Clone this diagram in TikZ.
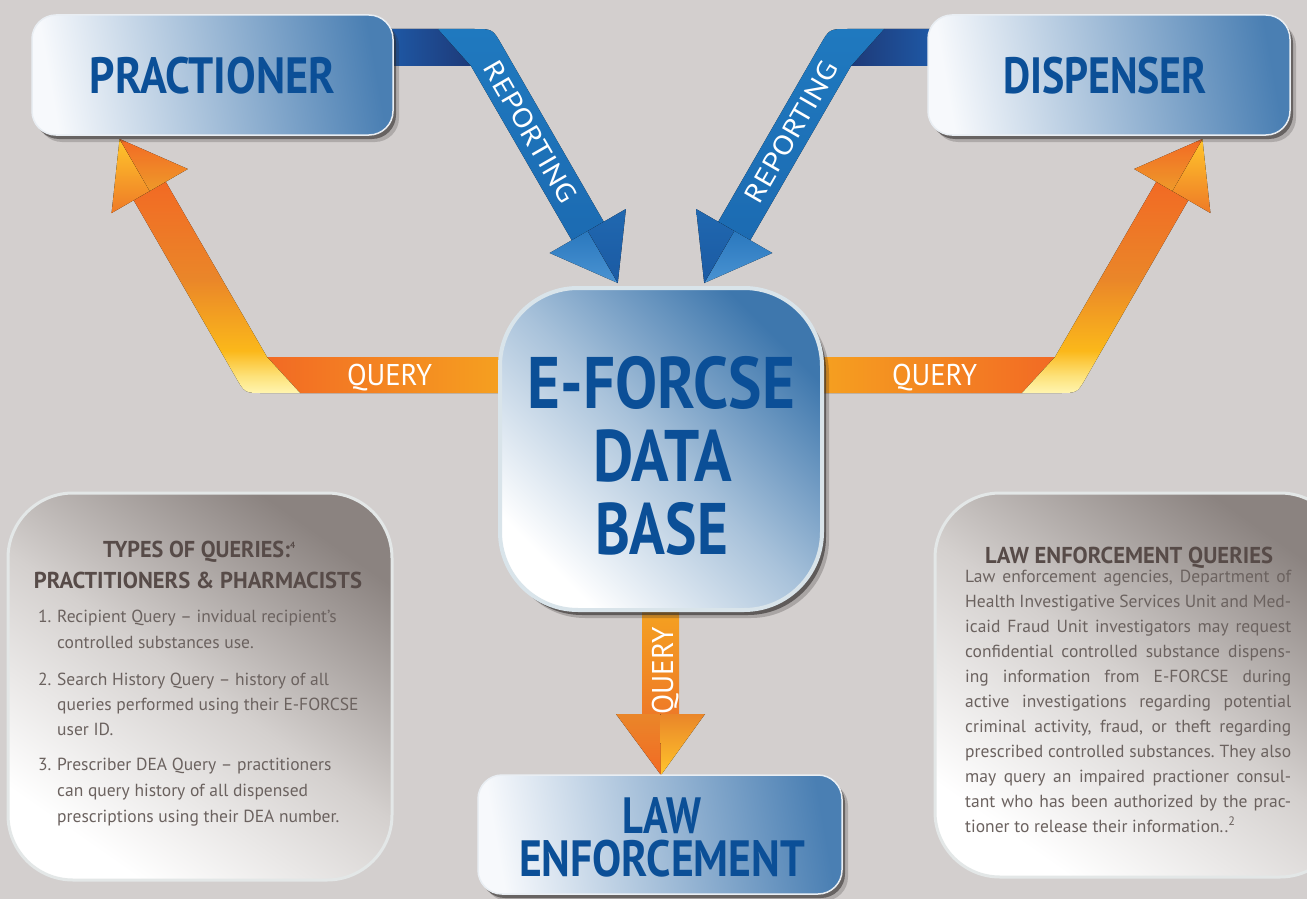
\documentclass[tikz,border=0pt]{standalone}
\usepackage{fontspec}
\setmainfont{PT Sans}
\newfontfamily\headfont{PT Sans}
\newfontfamily\bodyfont{PT Sans}
\usetikzlibrary{shadows,calc}
\frenchspacing

\definecolor{bgc}{HTML}{D3CFCE}
\definecolor{hblue}{HTML}{0B4F97}
\definecolor{boxl}{HTML}{F7F9FC}
\definecolor{boxr}{HTML}{4A7FB3}
\definecolor{boxrim}{HTML}{E9EEF3}
\definecolor{shadowc}{HTML}{2E2A29}
\definecolor{dbtop}{HTML}{3E77AD}
\definecolor{dbrim}{HTML}{D9E4EA}
\definecolor{pdark}{HTML}{8B8380}
\definecolor{pmid}{HTML}{D4D0CE}
\definecolor{prim}{HTML}{E3E7E7}
\definecolor{ptitlec}{HTML}{574B48}
\definecolor{bodyc}{HTML}{6B625F}
\definecolor{repblue}{HTML}{1F79BF}
\definecolor{repblueb}{HTML}{1C6BB2}
\definecolor{repnavyA}{HTML}{1E5CAB}
\definecolor{repnavyB}{HTML}{1E3A78}
\definecolor{rheadLa}{HTML}{4A93D2}
\definecolor{rheadLb}{HTML}{2A78BE}
\definecolor{rheadDa}{HTML}{1B5AA3}
\definecolor{rheadDb}{HTML}{2068B0}
\definecolor{qy0}{HTML}{FFF5B0}
\definecolor{qy1}{HTML}{FDE27A}
\definecolor{qy2}{HTML}{FBB81A}
\definecolor{qy3}{HTML}{EA8629}
\definecolor{qy4}{HTML}{F26A24}
\definecolor{qored}{HTML}{F26A24}
\definecolor{qband}{HTML}{F6A91F}
\definecolor{qhy}{HTML}{FFC52B}
\definecolor{qho}{HTML}{EE7A27}
\definecolor{qhl}{HTML}{EE9A2A}

\pgfdeclareverticalshading{qdiag}{100bp}{color(0bp)=(qy0); color(25bp)=(qy0); color(29bp)=(qy1); color(35bp)=(qy2); color(52bp)=(qy3); color(75bp)=(qy4); color(100bp)=(qy4)}

\tikzset{
  topbox/.style={rectangle, rounded corners=24pt, draw=boxrim, line width=1.5pt,
    left color=boxl, right color=boxr, shading angle=100,
    drop shadow={shadow xshift=3pt, shadow yshift=-4pt, opacity=0.55, fill=shadowc},
    drop shadow={shadow xshift=6pt, shadow yshift=-7pt, opacity=0.22, fill=shadowc},
    inner sep=0pt},
  dbbox/.style={rectangle, rounded corners=78pt, draw=dbrim, line width=4pt,
    top color=dbtop, bottom color=white, middle color=dbtop!45!white, shading angle=-45,
    drop shadow={shadow xshift=4pt, shadow yshift=-5pt, opacity=0.6, fill=shadowc},
    drop shadow={shadow xshift=7pt, shadow yshift=-8pt, opacity=0.25, fill=shadowc},
    inner sep=0pt},
  panel/.style={rectangle, rounded corners=65pt, draw=prim, line width=3pt,
    top color=pdark, bottom color=white, middle color=pmid, shading angle=-35,
    inner sep=0pt},
  hd/.style={text=hblue, inner sep=0pt},
  ptitle/.style={text=ptitlec, font=\headfont\bfseries\fontsize{23}{23}\selectfont, inner sep=0pt},
  body/.style={text=bodyc, font=\bodyfont\fontsize{17.5}{21}\selectfont, inner sep=0pt, anchor=base west},
  wlab/.style={text=white, font=\headfont\fontsize{30}{30}\selectfont, inner sep=0pt},
}

\begin{document}
\begin{tikzpicture}[x=1pt,y=-1pt]
\fill[bgc] (0,0) rectangle (1307,899);
\useasboundingbox (0,0) rectangle (1307,899);

% ---------- side panels ----------
\node[panel, minimum width=384pt, minimum height=387pt] (lpanel) at (200,686.5) {};
\node[panel, minimum width=410pt, minimum height=384pt] (rpanel) at (1140,685) {};

% ---------- named points of the ribbons ----------
% left reporting
\coordinate (rLa) at (380,29);  \coordinate (rLb) at (438,29);
\coordinate (rLc) at (471,66);  \coordinate (rLd) at (380,66);
\coordinate (rLr) at (603.8,221.8); \coordinate (rLl) at (571.8,240.3);
\coordinate (rLt) at (617.8,283); \coordinate (rLbl) at (549.7,253);
\coordinate (rLbr) at (625.9,209); \coordinate (rLm) at (587.8,231);
% right reporting
\coordinate (rRa) at (942,29);  \coordinate (rRb) at (884,29);
\coordinate (rRc) at (851,66);  \coordinate (rRd) at (942,66);
\coordinate (rRr) at (718.2,221.8); \coordinate (rRl) at (750.2,240.3);
\coordinate (rRt) at (704.2,283); \coordinate (rRbl) at (772.3,253);
\coordinate (rRbr) at (696.1,209); \coordinate (rRm) at (734.2,231);
% left query
\coordinate (qLa) at (267,357); \coordinate (qLb) at (540,357);
\coordinate (qLc) at (540,393); \coordinate (qLd) at (300,393);
\coordinate (qLi) at (165.7,181.75); \coordinate (qLo) at (133.7,200.25);
\coordinate (qLt) at (119.6,139); \coordinate (qLbl) at (111.6,213);
\coordinate (qLbr) at (187.8,169); \coordinate (qLm) at (149.7,191);
% right query
\coordinate (qRa) at (1055,357); \coordinate (qRb) at (782,357);
\coordinate (qRc) at (782,393); \coordinate (qRd) at (1022,393);
\coordinate (qRi) at (1156.3,181.75); \coordinate (qRo) at (1188.3,200.25);
\coordinate (qRt) at (1202.4,139); \coordinate (qRbl) at (1210.4,213);
\coordinate (qRbr) at (1134.2,169); \coordinate (qRm) at (1172.3,191);
% down query
\coordinate (qDa) at (642,590); \coordinate (qDb) at (679,714);
\coordinate (qDl) at (616,714); \coordinate (qDr) at (705,714);
\coordinate (qDm) at (660.5,714); \coordinate (qDt) at (661,775);

% ---------- reporting ribbons ----------
\fill[left color=repnavyA, right color=repnavyB] (rLa) -- (rLb) -- (rLc) -- (rLd) -- cycle;
\fill[top color=repblue, bottom color=repblueb]
  (rLb) -- (474,29) .. controls (492.6,29) .. (501.6,44.6) -- (rLr) -- (rLl) -- (rLc) -- cycle;
\fill[top color=rheadLb, bottom color=rheadLa] (rLt) -- (rLbl) -- (rLm) -- cycle;
\fill[top color=rheadDb, bottom color=rheadDa] (rLt) -- (rLbr) -- (rLm) -- cycle;

\fill[left color=repnavyB, right color=repnavyA] (rRa) -- (rRb) -- (rRc) -- (rRd) -- cycle;
\fill[top color=repblue, bottom color=repblueb]
  (rRb) -- (848,29) .. controls (829.4,29) .. (820.4,44.6) -- (rRr) -- (rRl) -- (rRc) -- cycle;
\fill[top color=rheadLb, bottom color=rheadLa] (rRt) -- (rRbl) -- (rRm) -- cycle;
\fill[top color=rheadDb, bottom color=rheadDa] (rRt) -- (rRbr) -- (rRm) -- cycle;

% ---------- query ribbons ----------
\fill[left color=qored, right color=qband] (qLa) -- (qLb) -- (qLc) -- (qLd) -- cycle;
\fill[shading=qdiag] (qLa) -- (qLi) -- (qLo) -- (235.8,377.4) .. controls (244.8,393) .. (262.8,393) -- (qLd) -- cycle;
\fill[top color=qhy, bottom color=qho] (qLt) -- (qLbl) -- (qLm) -- cycle;
\fill[top color=qored, bottom color=qhl] (qLt) -- (qLbr) -- (qLm) -- cycle;

\fill[left color=qband, right color=qored] (qRa) -- (qRb) -- (qRc) -- (qRd) -- cycle;
\fill[shading=qdiag] (qRa) -- (qRi) -- (qRo) -- (1086.2,377.4) .. controls (1077.2,393) .. (1059.2,393) -- (qRd) -- cycle;
\fill[top color=qhy, bottom color=qho] (qRt) -- (qRbl) -- (qRm) -- cycle;
\fill[top color=qored, bottom color=qhl] (qRt) -- (qRbr) -- (qRm) -- cycle;

\fill[top color=qband, bottom color=qho] (qDa) rectangle (qDb);
\fill[top color=qy3, bottom color=qored] (qDl) -- (qDm) -- (qDt) -- cycle;
\fill[top color=qy3, bottom color=qhy] (qDr) -- (qDm) -- (qDt) -- cycle;

% ---------- boxes ----------
\node[topbox, minimum width=361pt, minimum height=120pt] (prac) at (212.5,75) {};
\node[topbox, minimum width=362pt, minimum height=120pt] (disp) at (1109,75) {};
\node[dbbox, minimum width=322pt, minimum height=322pt] (db) at (661,449) {};
\node[topbox, minimum width=364pt, minimum height=119pt] (law) at (660,834.5) {};

% ---------- box texts ----------
\node[hd, anchor=base, font=\headfont\bfseries\fontsize{51}{51}\selectfont] (pract) at (212.5,94) {\resizebox{245pt}{\height}{PRACTIONER}};
\node[hd, anchor=base, font=\headfont\bfseries\fontsize{51}{51}\selectfont] (dispt) at (1105,94) {\resizebox{204pt}{\height}{DISPENSER}};
\node[hd, anchor=base, font=\headfont\bfseries\fontsize{73}{73}\selectfont] (dbt1) at (661.5,408) {\resizebox{267pt}{\height}{E-FORCSE}};
\node[hd, anchor=base, font=\headfont\bfseries\fontsize{73}{73}\selectfont] (dbt2) at (662.5,481) {\resizebox{139pt}{\height}{DATA}};
\node[hd, anchor=base, font=\headfont\bfseries\fontsize{73}{73}\selectfont] (dbt3) at (661.5,554) {\resizebox{133pt}{\height}{BASE}};
\node[hd, anchor=base, font=\headfont\bfseries\fontsize{51}{51}\selectfont] (lawt1) at (661.5,833) {\resizebox{79pt}{\height}{LAW}};
\node[hd, anchor=base, font=\headfont\bfseries\fontsize{51}{51}\selectfont] (lawt2) at (662,876) {\resizebox{286pt}{\height}{ENFORCEMENT}};

% ---------- ribbon labels ----------
\node[wlab, anchor=base] (qlt) at (389.5,385) {\resizebox{85pt}{\height}{QUERY}};
\node[wlab, anchor=base] (qrt) at (934.5,385) {\resizebox{85pt}{\height}{QUERY}};
\node[wlab, anchor=base, rotate=90] (qdt) at (673,671) {\resizebox{87pt}{\height}{QUERY}};
\node[wlab, anchor=base, rotate=-60, font=\headfont\fontsize{27}{27}\selectfont] (rlt) at (522.3,136.75) {\resizebox{159pt}{\height}{REPORTING}};
\node[wlab, anchor=base, rotate=60, font=\headfont\fontsize{27}{27}\selectfont] (rrt) at (799.7,136.75) {\resizebox{159pt}{\height}{REPORTING}};

% ---------- left panel text ----------
\node[ptitle, anchor=base west] (lt1) at (103,557) {\resizebox{187pt}{\height}{TYPES OF QUERIES:}\raisebox{9pt}{\fontsize{9}{9}\selectfont 4}};
\node[ptitle, anchor=base] (lt2) at (198,588) {\resizebox{328pt}{\height}{PRACTITIONERS \& PHARMACISTS}};
\node[body] (n1) at (38,622) {1.};
\node[body] (l1a) at (57,622) {Recipient Query – invidual recipient’s};
\node[body] (l1b) at (57,648) {controlled substances use.};
\node[body] (n2) at (38,685) {2.};
\node[body] (l2a) at (57,685) {Search History Query – history of all};
\node[body] (l2b) at (57,710) {queries performed using their E-FORCSE};
\node[body] (l2c) at (57,735) {user ID.};
\node[body] (n3) at (38,770) {3.};
\node[body] (l3a) at (57,770) {Prescriber DEA Query – practitioners};
\node[body] (l3b) at (57,796) {can query history of all dispensed};
\node[body] (l3c) at (57,822) {prescriptions using their DEA number.};

% ---------- right panel text ----------
\node[ptitle, anchor=base] (rt) at (1129,563) {\resizebox{288pt}{\height}{LAW ENFORCEMENT QUERIES}};
\node[body] (r1) at (965,582) {\makebox[326pt][s]{Law enforcement agencies, Department of}};
\node[body] (r2) at (965,607) {\makebox[326pt][s]{Health Investigative Services Unit and Med-}};
\node[body] (r3) at (965,632) {\makebox[326pt][s]{icaid Fraud Unit investigators may request}};
\node[body] (r4) at (965,657) {\makebox[326pt][s]{confidential controlled substance dispens-}};
\node[body] (r5) at (965,682) {\makebox[326pt][s]{ing information from E-FORCSE during}};
\node[body] (r6) at (965,707) {\makebox[326pt][s]{active investigations regarding potential}};
\node[body] (r7) at (965,732) {\makebox[326pt][s]{criminal activity, fraud, or theft regarding}};
\node[body] (r8) at (965,757) {\makebox[326pt][s]{prescribed controlled substances. They also}};
\node[body] (r9) at (965,782) {\makebox[326pt][s]{may query an impaired practioner consul-}};
\node[body] (r10) at (965,807) {\makebox[326pt][s]{tant who has been authorized by the prac-}};
\node[body] (r11) at (965,832) {tioner to release their information..\textsuperscript{2}};
\end{tikzpicture}
\end{document}
